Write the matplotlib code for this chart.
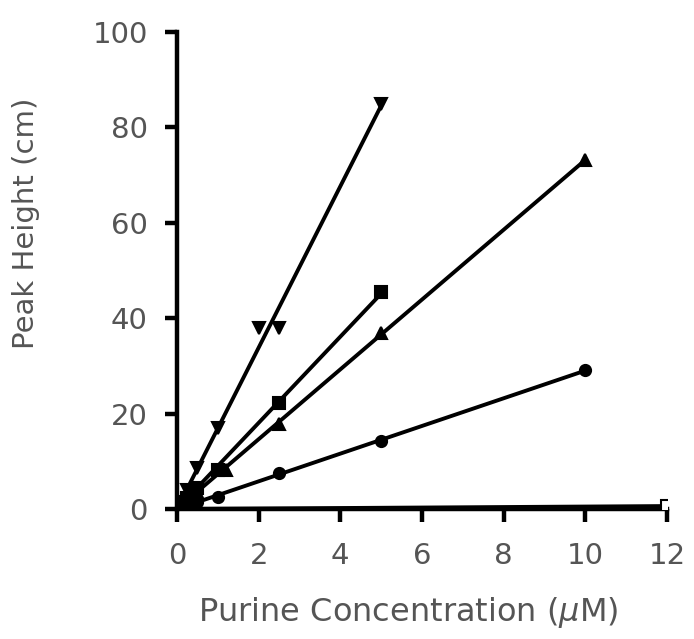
import numpy as np
import matplotlib
matplotlib.use("Agg")
import matplotlib.pyplot as plt

# Peak height vs. concentration for several purines
conc_a = [0.1, 0.25, 0.5, 1.0, 2.0, 2.5, 5.0]
peak_a = [1.5, 4.0, 8.5, 17.0, 38.0, 38.0, 85.0]

conc_b = [0.1, 0.25, 0.5, 1.0, 2.5, 5.0]
peak_b = [0.9, 2.3, 4.5, 8.2, 22.2, 45.5]

conc_c = [0.1, 0.25, 0.5, 1.2, 2.5, 5.0, 10.0]
peak_c = [0.7, 1.8, 3.6, 8.2, 17.8, 36.9, 73.2]

conc_d = [0.1, 0.25, 0.5, 1.0, 2.5, 5.0, 10.0]
peak_d = [0.3, 0.7, 1.4, 2.5, 7.5, 14.3, 29.1]

conc_e = [0.5, 1.0, 2.5, 5.0, 10.0, 12.0]
peak_e = [0.0, 0.1, 0.2, 0.3, 0.5, 0.6]

x_ticks = [0, 2, 4, 6, 8, 10, 12]
y_ticks = [0, 20, 40, 60, 80, 100]

series = [
    (conc_a, peak_a, "v", "black", None),
    (conc_b, peak_b, "s", "black", None),
    (conc_c, peak_c, "^", "black", None),
    (conc_d, peak_d, "o", "black", None),
    (conc_e, peak_e, "s", "white", [-1]),
]

fig = plt.figure(figsize=(6.94, 6.39), dpi=100)
ax = fig.add_axes([0.255, 0.2034, 0.706, 0.7466])

for xs, ys, mk, fc, every in series:
    x = np.asarray(xs)
    y = np.asarray(ys)
    slope = np.sum(x * y) / np.sum(x * x)  # least-squares line through origin
    xl = np.array([0.0, x.max()])
    ax.plot(xl, slope * xl, color="black", lw=2.8, solid_capstyle="round", zorder=2)
    ax.plot(x, y, linestyle="none", marker=mk, ms=8, mfc=fc, mec="black",
            mew=1.5, markevery=every, zorder=3)

ax.set_xlim(0, 12)
ax.set_ylim(0, 100)
ax.set_xticks(x_ticks)
ax.set_yticks(y_ticks)
ax.set_xticklabels([str(t) for t in x_ticks])
ax.set_yticklabels([str(t) for t in y_ticks])

for side in ("top", "right"):
    ax.spines[side].set_visible(False)
for side in ("left", "bottom"):
    ax.spines[side].set_linewidth(3.2)
ax.tick_params(direction="out", length=9, width=3.2, labelsize=21,
               labelcolor="#555555")
ax.tick_params(axis="y", pad=12)
ax.tick_params(axis="x", pad=15)

fig.text(0.038, 1 - 223 / 639, "Peak Height (cm)", rotation=90, ha="center",
         va="center", fontsize=21, color="#555555")
fig.text(408 / 694, 1 - 612 / 639, "Purine Concentration ($\\mu$M)", ha="center",
         va="center", fontsize=23, color="#555555")

fig.savefig("out.png", dpi=100)
